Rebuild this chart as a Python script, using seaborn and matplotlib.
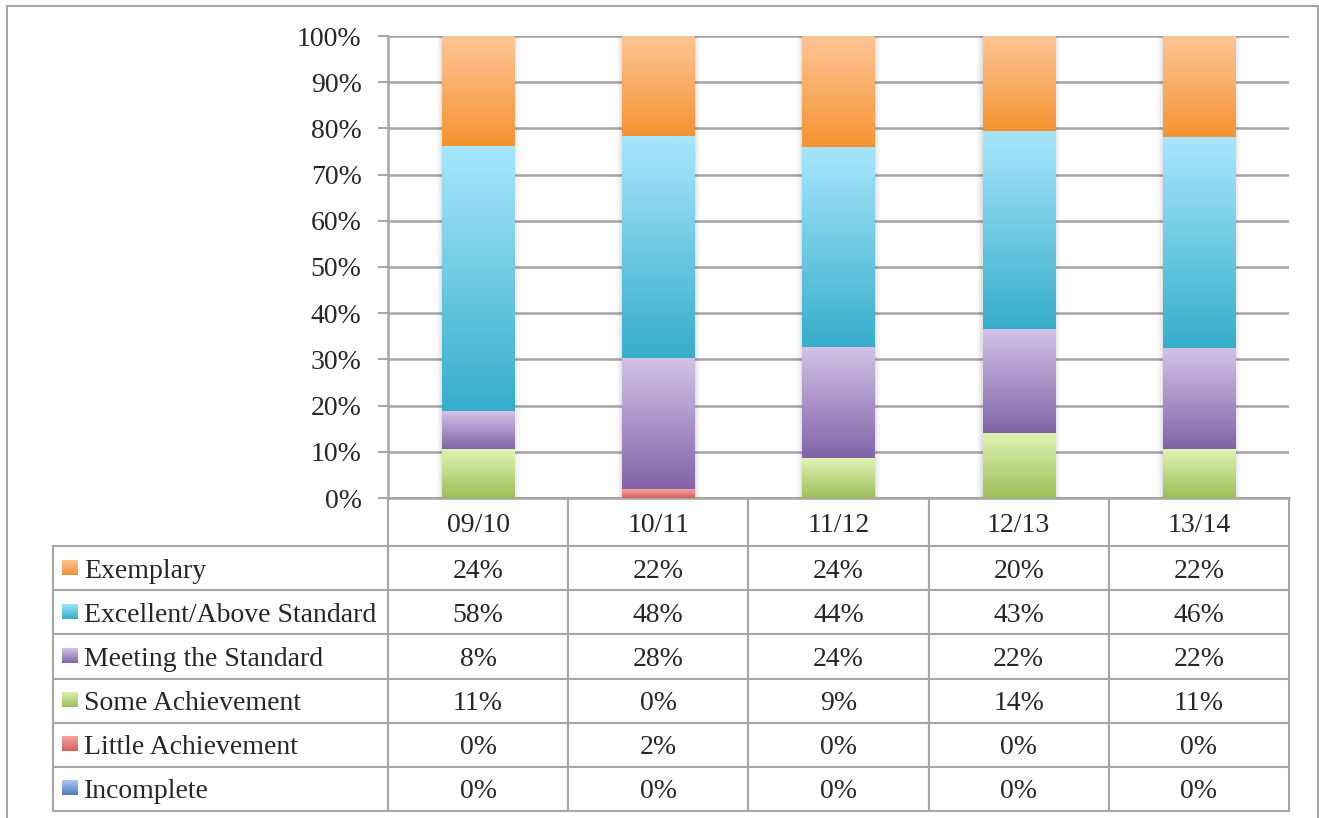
import numpy as np
import pandas as pd
import matplotlib
matplotlib.use("Agg")
import matplotlib.pyplot as plt
import seaborn as sns
from matplotlib.colors import LinearSegmentedColormap
from matplotlib.patches import Rectangle
from matplotlib.ticker import PercentFormatter

# data (percent of students per band, per school year)
years = ["09/10", "10/11", "11/12", "12/13", "13/14"]
series = ["Exemplary", "Excellent/Above Standard", "Meeting the Standard",
          "Some Achievement", "Little Achievement", "Incomplete"]
exemplary = [23.8, 21.6, 24.0, 20.4, 21.9]
excellent = [57.8, 47.9, 43.6, 42.8, 45.8]
meeting = [8.2, 28.4, 24.1, 22.4, 21.9]
some = [10.6, 0.0, 8.6, 14.1, 10.6]
little = [0.0, 1.9, 0.0, 0.0, 0.0]
incomplete = [0.0, 0.0, 0.0, 0.0, 0.0]

# gradient colours (top, bottom) like the Excel 2011 style
colors = {
    "Exemplary": ("#FDC596", "#F59331"),
    "Excellent/Above Standard": ("#A8E6FC", "#36AECB"),
    "Meeting the Standard": ("#D2C3E7", "#8264A7"),
    "Some Achievement": ("#DFF3B3", "#9EBE5A"),
    "Little Achievement": ("#F5A5A2", "#D4605C"),
    "Incomplete": ("#AACAF3", "#4A7EBB"),
}

sns.set_style("white")
plt.rcParams["font.family"] = ["Liberation Serif", "DejaVu Serif"]
plt.rcParams["font.size"] = 20

df = pd.DataFrame({"Exemplary": exemplary, "Excellent/Above Standard": excellent,
                   "Meeting the Standard": meeting, "Some Achievement": some,
                   "Little Achievement": little, "Incomplete": incomplete}, index=years)
share = df.div(df.sum(axis=1), axis=0)

stack_order = series[::-1]  # bottom to top
tops = share[stack_order].cumsum(axis=1)
bottoms = tops - share[stack_order]

fig = plt.figure(figsize=(13.19, 8.18), dpi=100)
ax = fig.add_axes([388 / 1319, 1 - 498 / 818, 901 / 1319, 462 / 818])


def vgrad(axis, extent, top, bottom, z):
    cmap = LinearSegmentedColormap.from_list("g", [bottom, top])
    grad = np.linspace(0, 1, 128).reshape(-1, 1)
    axis.imshow(grad, extent=extent, origin="lower", cmap=cmap, aspect="auto",
                zorder=z, interpolation="bilinear")


# draw cumulative bars top-down so lower ones sit in front, then paint gradients
seg_patches = {}
for s in stack_order[::-1]:
    n0 = len(ax.patches)
    sns.barplot(x=years, y=tops[s].values, color=colors[s][1], width=0.4,
                ax=ax, zorder=2, saturation=1, linewidth=0)
    seg_patches[s] = ax.patches[n0:]

# soft shadow around full columns
for p in seg_patches[stack_order[-1]]:
    for grow, a in [(0.03, 0.03), (0.018, 0.04), (0.007, 0.05)]:
        ax.add_patch(Rectangle((p.get_x() - grow, 0), p.get_width() + 2 * grow, p.get_height() + 0.003,
                               color="black", alpha=a, lw=0, zorder=1.5))

for s in stack_order:
    for i, p in enumerate(seg_patches[s]):
        b, t = bottoms[s].iloc[i], tops[s].iloc[i]
        if t - b <= 0:
            continue
        vgrad(ax, [p.get_x(), p.get_x() + p.get_width(), b, t], colors[s][0], colors[s][1], 3)

ax.set_xlim(-0.5, len(years) - 0.5)
ax.set_ylim(0, 1)
ax.set_xticks([])
ax.set_xlabel("")
ax.set_yticks(np.linspace(0, 1, 11))
ax.yaxis.set_major_formatter(PercentFormatter(1.0, decimals=0))
ax.yaxis.grid(True, color="#A6A6A6", lw=1.8)
ax.set_axisbelow(True)
ax.tick_params(axis="y", length=7, width=1.5, color="#A6A6A6", pad=12, labelsize=20, left=True)
for side in ["top", "right"]:
    ax.spines[side].set_visible(False)
for side in ["left", "bottom"]:
    ax.spines[side].set_color("#A6A6A6")
    ax.spines[side].set_linewidth(1.8)

# data table under the plot
cell_text = [[lab] + [f"{v:.0f}%" for v in df[lab]] for lab in series]
lab_w = 335 / 901
tab = ax.table(cellText=cell_text, colLabels=[""] + years, cellLoc="center",
               colWidths=[lab_w] + [1 / len(years)] * len(years),
               bbox=[-lab_w, -313 / 462, 1 + lab_w, 313 / 462])
tab.auto_set_font_size(False)
tab.set_fontsize(20)
for (r, c), cell in tab.get_celld().items():
    cell.set_edgecolor("#A6A6A6")
    cell.set_linewidth(1.5)
    cell.get_text().set_va("center_baseline")
    if r == 0:
        cell.set_height(cell.get_height() * 48 / 44)
    if r == 0 and c == 0:
        cell.set_visible(False)
    if c == 0 and r > 0:
        cell.get_text().set_ha("left")
        cell.PAD = 0.093

fig.canvas.draw()
kw, kh = 15 / 901, 15 / 462
for r, lab in enumerate(series, start=1):
    cell = tab[(r, 0)]
    kx = cell.get_x() + 9 / 901
    ky = cell.get_y() + cell.get_height() / 2 - kh / 2 + 1 / 462
    kax = ax.inset_axes([kx, ky, kw, kh])
    vgrad(kax, [0, 1, 0, 1], colors[lab][0], colors[lab][1], 1)
    kax.set_axis_off()

fig.patches.append(Rectangle((7 / 1319, -0.05), 1311 / 1319, 1.05 - 6 / 818, transform=fig.transFigure,
                             fill=False, edgecolor="#A6A6A6", lw=1.5))

fig.savefig("out.png", dpi=100)
